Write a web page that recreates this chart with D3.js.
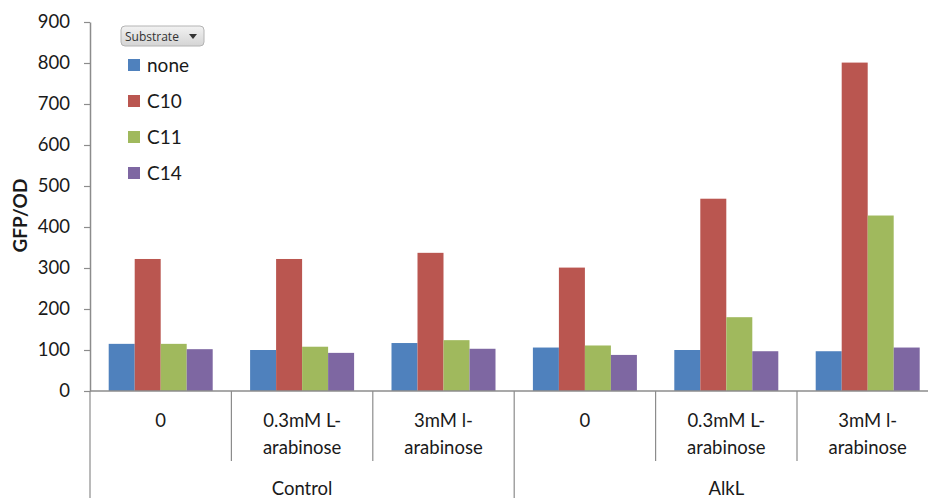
<!DOCTYPE html>
<html>
<head>
<meta charset="utf-8">
<script src="https://cdn.jsdelivr.net/npm/d3@7"></script>
<style>
  html, body { margin: 0; padding: 0; background: #fff; }
  svg { display: block; font-family: Lato, "Open Sans", sans-serif; }
</style>
</head>
<body>
<svg id="chart" width="928" height="498"></svg>
<script>
// Strain groups and the arabinose induction levels within each
const groups = ["Control", "AlkL"];
const conditions = ["0", "0.3mM L-arabinose", "3mM l-arabinose"];
const conditionLines = [["0"], ["0.3mM L-", "arabinose"], ["3mM l-", "arabinose"]];

// Substrate series (GFP/OD), one value per group × condition
const substrates = ["none", "C10", "C11", "C14"];
const noneVals = [115, 100, 117, 106, 100, 97];
const c10Vals  = [322, 322, 337, 301, 469, 801];
const c11Vals  = [115, 108, 124, 111, 180, 428];
const c14Vals  = [102, 93, 103, 88, 97, 106];
const seriesValues = [noneVals, c10Vals, c11Vals, c14Vals];
const colors = ["#4F81BD", "#BA5650", "#A0B95D", "#7E67A2"];

const yTicks = [0, 100, 200, 300, 400, 500, 600, 700, 800, 900];

const svg = d3.select("#chart");
const plotLeft = 90, plotRight = 938.4, plotTop = 22, plotBottom = 391;

const cats = [];
groups.forEach(g => conditions.forEach(c => cats.push(g + "|" + c)));

const pad = 0.2645;
const x = d3.scaleBand().domain(cats).range([plotLeft, plotRight])
  .paddingInner(pad).paddingOuter(pad / 2);
const xs = d3.scaleBand().domain(substrates).range([0, x.bandwidth()]).padding(0);
const y = d3.scaleLinear().domain([0, 900]).range([plotBottom, plotTop]);

const axisColor = "#8c8c8c";
const textColor = "#1a1a1a";

// Bars
const rows = cats.map((k, i) => ({ key: k, vals: substrates.map((s, j) => ({ s, j, v: seriesValues[j][i] })) }));
svg.append("g").selectAll("g").data(rows).join("g")
  .attr("transform", d => `translate(${x(d.key)},0)`)
  .selectAll("rect").data(d => d.vals).join("rect")
  .attr("x", d => xs(d.s))
  .attr("width", xs.bandwidth())
  .attr("y", d => y(d.v))
  .attr("height", d => y(0) - y(d.v))
  .attr("fill", d => colors[d.j]);

// Y axis
const yAxis = svg.append("g").attr("transform", `translate(${plotLeft},0)`)
  .call(d3.axisLeft(y).tickValues(yTicks).tickSize(6).tickSizeOuter(0).tickPadding(14));
yAxis.select(".domain").attr("stroke", axisColor).attr("stroke-width", 1.5);
yAxis.selectAll(".tick line").attr("stroke", axisColor).attr("stroke-width", 1.2);
yAxis.selectAll(".tick text").attr("font-size", 18.5).attr("fill", textColor)
  .attr("font-family", "Lato, 'Open Sans', sans-serif");

svg.append("text")
  .attr("transform", `translate(27,${(plotTop + plotBottom) / 2 + 9}) rotate(-90)`)
  .attr("text-anchor", "middle")
  .attr("font-size", 19).attr("font-weight", "bold").attr("fill", textColor)
  .text("GFP/OD");

// X axis baseline
svg.append("line").attr("x1", plotLeft).attr("x2", 928).attr("y1", plotBottom).attr("y2", plotBottom)
  .attr("stroke", axisColor).attr("stroke-width", 1.5);

// Category separators: short between conditions, full height between groups
const step = x.step();
const boundary = i => x(cats[0]) - step * pad / 2 + i * step;
for (let i = 0; i <= cats.length; i++) {
  const isGroupEdge = i % conditions.length === 0;
  svg.append("line")
    .attr("x1", boundary(i)).attr("x2", boundary(i))
    .attr("y1", plotBottom).attr("y2", isGroupEdge ? 498 : 461)
    .attr("stroke", axisColor).attr("stroke-width", 1.2);
}

// Condition labels
cats.forEach((k, i) => {
  const lines = conditionLines[i % conditions.length];
  const cx = x(k) + x.bandwidth() / 2;
  const t = svg.append("text").attr("text-anchor", "middle")
    .attr("font-size", 18.5).attr("fill", textColor);
  lines.forEach((ln, li) => {
    t.append("tspan").attr("x", cx).attr("y", 427 + li * 27).text(ln);
  });
});

// Group labels
groups.forEach((g, gi) => {
  const cx = (boundary(gi * conditions.length) + boundary((gi + 1) * conditions.length)) / 2;
  svg.append("text").attr("x", cx).attr("y", 495).attr("text-anchor", "middle")
    .attr("font-size", 18.5).attr("fill", textColor).text(g);
});

// Legend with field button
const defs = svg.append("defs");
const grad = defs.append("linearGradient").attr("id", "btn").attr("x1", 0).attr("x2", 0).attr("y1", 0).attr("y2", 1);
grad.append("stop").attr("offset", "0%").attr("stop-color", "#f2f2f2");
grad.append("stop").attr("offset", "100%").attr("stop-color", "#d4d4d4");
svg.append("rect").attr("x", 121).attr("y", 26).attr("width", 83).attr("height", 20).attr("rx", 4)
  .attr("fill", "url(#btn)").attr("stroke", "#b4b4b4");
svg.append("text").attr("x", 125).attr("y", 41).attr("font-size", 12)
  .attr("font-family", "'Open Sans', sans-serif").attr("fill", "#333").text("Substrate");
svg.append("path").attr("d", "M189,34 L197,34 L193,39 Z").attr("fill", "#333");

const legend = svg.append("g").selectAll("g").data(substrates).join("g")
  .attr("transform", (d, i) => `translate(128,${65 + i * 36})`);
legend.append("rect").attr("x", 0).attr("y", -6).attr("width", 12).attr("height", 12)
  .attr("fill", (d, i) => colors[i]);
legend.append("text").attr("x", 19).attr("y", 6.5).attr("font-size", 19).attr("fill", textColor)
  .text(d => d);
</script>
</body>
</html>
